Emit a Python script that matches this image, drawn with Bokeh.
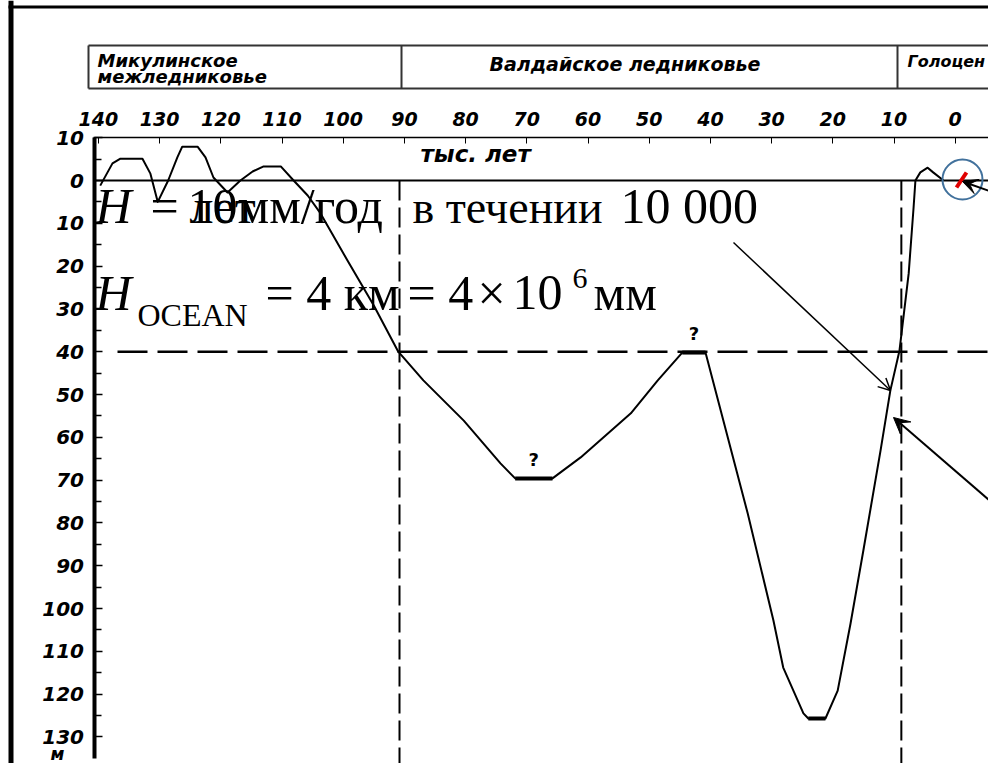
import numpy as np
from bokeh.plotting import figure
from bokeh.models import Range1d, LinearAxis, FixedTicker, Label, Arrow, OpenHead, VeeHead
from bokeh.embed import file_html
from bokeh.resources import INLINE
from bokeh.core.properties import value

# ---------------- data ----------------
age_kyr = [139.7, 137.7, 136.4, 132.8, 131.5, 130.3, 128.6, 127.1, 126.3, 123.8,
           122.5, 121.2, 118.9, 116.8, 114.8, 113.0, 110.2, 108.1, 105.8, 103.7,
           99.3, 95.0, 91.0, 86.9, 80.3, 74.3, 71.9, 65.8, 61.2, 53.0,
           48.6, 44.6, 40.8, 33.9, 29.7, 28.1, 24.8, 24.0, 21.2, 19.2,
           17.1, 15.0, 12.2, 10.6, 9.1, 7.6, 6.8, 6.5, 5.7, 4.5, 3.6, 1.9]
sea_level_m = [-1.2, 4.0, 5.1, 5.1, 1.6, -5.0, 0.0, 5.4, 7.9, 7.9,
               5.4, 0.7, -2.8, 0.0, 2.1, 3.3, 3.3, 0.0, -3.5, -7.7,
               -18.7, -29.2, -40.0, -46.7, -56.1, -66.1, -69.6, -69.6, -64.7, -54.4,
               -46.7, -40.2, -40.2, -77.8, -102.8, -113.8, -124.5, -125.7, -125.7, -119.2,
               -103.5, -86.4, -63.1, -49.1, -39.7, -21.7, -6.3, 0.0, 1.9, 3.0, 1.9, 0.0]

x_tick_values = [140, 130, 120, 110, 100, 90, 80, 70, 60, 50, 40, 30, 20, 10, 0]
x_tick_labels = ["140", "130", "120", "110", "100", "90", "80", "70", "60", "50",
                 "40", "30", "20", "10", "0"]
y_tick_values = [10, 0, -10, -20, -30, -40, -50, -60, -70, -80, -90, -100, -110, -120, -130]
y_tick_labels = ["10", "0", "10", "20", "30", "40", "50", "60", "70", "80", "90",
                 "100", "110", "120", "130"]
y_minor_ticks = [5, -5, -15, -25, -35, -45, -55, -65, -75, -85, -95, -105, -115, -125]

boundaries_kyr = [90.8, 8.8]
reference_level_m = -40
stage_names = ["Микулинское", "межледниковье", "Валдайское ледниковье", "Голоцен"]

# ---------------- layout helpers (picture pixels -> data) ----------------
W, H = 988, 763
X0_PX, PX_PER_KYR = 954.7, 6.12
Y0_PX, PX_PER_M = 180.0, 4.28


def kx(px):
    return (X0_PX - px) / PX_PER_KYR


def hy(py):
    return (Y0_PX - py) / PX_PER_M


p = figure(width=W, height=H,
           x_range=Range1d(kx(0), kx(W)),
           y_range=Range1d(hy(H), hy(0)),
           output_backend="svg", toolbar_location=None,
           x_axis_type=None, y_axis_type=None, min_border=0, title=None)
p.outline_line_color = None
p.background_fill_color = "white"
p.border_fill_color = "white"

LAB_FONT = "DejaVu Sans"

# ---------------- axes ----------------
xa = LinearAxis(fixed_location=10,
                ticker=FixedTicker(ticks=x_tick_values, minor_ticks=[]),
                major_label_overrides=dict(zip(x_tick_values, x_tick_labels)),
                bounds=(kx(1004), kx(93)))
xa.axis_line_width = 1.5
xa.major_tick_in = 6
xa.major_tick_out = 0
xa.major_tick_line_width = 1
xa.minor_tick_line_color = None
xa.major_label_standoff = 12
xa.major_label_text_font = LAB_FONT
xa.major_label_text_font_style = "bold italic"
xa.major_label_text_font_size = "19px"
xa.major_label_text_color = "black"
p.add_layout(xa, "above")

ya = LinearAxis(fixed_location=kx(93.5),
                ticker=FixedTicker(ticks=y_tick_values, minor_ticks=y_minor_ticks),
                major_label_overrides=dict(zip(y_tick_values, y_tick_labels)),
                bounds=(-135, 10))
ya.axis_line_width = 4
ya.major_tick_in = 8
ya.major_tick_out = 0
ya.minor_tick_in = 7
ya.minor_tick_out = 0
ya.major_tick_line_width = 1.5
ya.minor_tick_line_width = 1.5
ya.major_label_standoff = 10
ya.major_label_text_font = LAB_FONT
ya.major_label_text_font_style = "bold italic"
ya.major_label_text_font_size = "20px"
ya.major_label_text_color = "black"
p.add_layout(ya, "left")

# ---------------- reference lines ----------------
p.segment(x0=[kx(93)], y0=[0], x1=[kx(1004)], y1=[0], line_color="black", line_width=2)
p.segment(x0=[kx(117)], y0=[reference_level_m], x1=[kx(1004)], y1=[reference_level_m],
          line_color="black", line_width=2.5, line_dash="30 10")
p.segment(x0=boundaries_kyr, y0=[0] * len(boundaries_kyr),
          x1=boundaries_kyr, y1=[hy(790)] * len(boundaries_kyr),
          line_color="black", line_width=2, line_dash="20 7")

# ---------------- curve ----------------
a = np.array(age_kyr)
s = np.array(sea_level_m)
p.line(a, s, line_color="black", line_width=2, line_join="round")
flat = np.array([i for i in range(len(s) - 1) if s[i] == s[i + 1] and s[i] < -30])
p.segment(a[flat], s[flat], a[flat + 1], s[flat + 1], line_color="black", line_width=4)
q = flat[s[flat] > -100]
p.text(x=(a[q] + a[q + 1]) / 2, y=s[q], text=["?"] * len(q), y_offset=-19,
       text_align="center", text_baseline="alphabetic",
       text_font=value(LAB_FONT), text_font_style="bold", text_font_size="18px",
       text_color="black")

# ---------------- header boxes ----------------
hc = "#333333"
p.segment(x0=[kx(88), kx(88)], y0=[hy(45), hy(88)], x1=[kx(1010), kx(1010)], y1=[hy(45), hy(88)],
          line_color=hc, line_width=2)
p.segment(x0=[kx(88), kx(401), kx(897)], y0=[hy(45)] * 3,
          x1=[kx(88), kx(401), kx(897)], y1=[hy(88)] * 3, line_color=hc, line_width=2)


def lab(px, py, text, font=LAB_FONT, size=16, style="bold italic", color="black"):
    # py is the wanted baseline; the renderer draws ~0.4 em lower, so compensate
    p.add_layout(Label(x=kx(px), y=hy(py - 0.4 * size), text=text, text_font=font,
                       text_font_size=f"{size}px", text_font_style=style,
                       text_color=color, text_align="left", text_baseline="alphabetic"))


lab(97, 67, stage_names[0], size=18)
lab(97, 83, stage_names[1], size=18)
lab(489, 71, stage_names[2], size=19)
lab(907, 67, stage_names[3], size=16)
lab(420, 163, "тыс. лет", size=23)
lab(50, 760, "м", size=17)

# ---------------- outer frame ----------------
p.segment(x0=[kx(10.5)], y0=[hy(0)], x1=[kx(10.5)], y1=[hy(800)], line_color="black", line_width=5)
p.segment(x0=[kx(8)], y0=[hy(6.5)], x1=[kx(1010)], y1=[hy(6.5)], line_color="black", line_width=3)

# ---------------- formula text ----------------
SER = "Liberation Serif"
lab(95, 225, "H", font=SER, size=50, style="italic")
lab(150, 225, "=", font=SER, size=50, style="normal")
lab(187, 225, "10мм/год", font=SER, size=50, style="normal")
lab(189, 225, "лет", font=SER, size=48, style="normal")
lab(412, 225, "в течении", font=SER, size=46, style="normal")
lab(620, 225, "10 000", font=SER, size=50, style="normal")

lab(95, 312, "H", font=SER, size=50, style="italic")
lab(137, 327, "OCEAN", font=SER, size=32, style="normal")
lab(265, 312, "= 4 км", font=SER, size=50, style="normal")
lab(407, 312, "= 4", font=SER, size=50, style="normal")
lab(477, 312, "×", font=SER, size=50, style="normal")
lab(512, 312, "10", font=SER, size=50, style="normal")
lab(572, 290, "6", font=SER, size=30, style="normal")
lab(593, 312, "мм", font=SER, size=50, style="normal")

# ---------------- annotations: arrows, circle, marker ----------------
p.add_layout(Arrow(end=OpenHead(size=12, line_width=1.5, line_color="black"),
                   x_start=kx(733), y_start=hy(242), x_end=kx(890), y_end=hy(390),
                   line_width=1.5, line_color="black"))
p.add_layout(Arrow(end=VeeHead(size=16, fill_color="black", line_color="black"),
                   x_start=kx(1010), y_start=hy(518), x_end=kx(893), y_end=hy(417),
                   line_width=2, line_color="black"))
p.add_layout(Arrow(end=VeeHead(size=15, fill_color="black", line_color="black"),
                   x_start=kx(1010), y_start=hy(198), x_end=kx(962), y_end=hy(181),
                   line_width=2, line_color="black"))
p.scatter(x=[kx(962)], y=[hy(179)], size=40, marker="circle", fill_color=None,
          line_color="#41719c", line_width=2)
p.segment(x0=[kx(956)], y0=[hy(187)], x1=[kx(966)], y1=[hy(172)], line_color="#e00000",
          line_width=4)

open("out.html", "w").write(file_html(p, INLINE))
